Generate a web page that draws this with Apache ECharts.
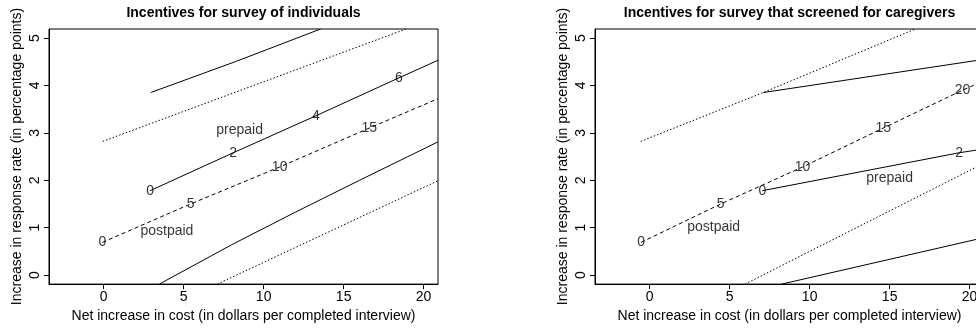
<!DOCTYPE html>
<html>
<head>
<meta charset="utf-8">
<script src="https://cdn.jsdelivr.net/npm/echarts@6/dist/echarts.min.js"></script>
<style>
html,body{margin:0;padding:0;background:#fff;overflow:hidden;width:976px;height:328px;}
#c{width:984px;height:328px;}
</style>
</head>
<body>
<div id="c"></div>
<script>
// ---- tick labels ----
const xTicks = [0, 5, 10, 15, 20];
const yTicks = [0, 1, 2, 3, 4, 5];

// ---- panel 1: survey of individuals ----
const indPrepaid = [[2.9, 1.78], [8.1, 2.58], [13.27, 3.36], [18.46, 4.16], [20.9, 4.53]];
const indPrepaidLabels = ['0', '2', '4', '6'];
const indPrepaidUpper = [[2.94, 3.85], [8.3, 4.51], [13.56, 5.19]];
const indPrepaidLower = [[3.48, -0.19], [8, 0.64], [12, 1.33], [16, 2.0], [20.9, 2.81]];
const indPostpaid = [[-0.08, 0.69], [5.43, 1.5], [11.0, 2.28], [16.6, 3.1], [20.9, 3.72]];
const indPostpaidLabels = ['0', '5', '10', '15'];
const indPostpaidUpper = [[-0.06, 2.82], [18.9, 5.19]];
const indPostpaidLower = [[7.1, -0.19], [20.9, 1.99]];
const indText = [['prepaid', 8.5, 3.05], ['postpaid', 3.95, 0.93]];

// ---- panel 2: survey that screened for caregivers ----
const cgPostpaidUpper = [[-0.56, 2.82], [7.1, 3.85], [16.6, 5.19]];
const cgPrepaidUpper = [[7.1, 3.85], [20.9, 4.55]];
const cgPostpaid = [[-0.54, 0.69], [4.44, 1.5], [9.56, 2.28], [14.6, 3.1], [19.56, 3.9], [20.9, 4.1]];
const cgPostpaidLabels = ['0', '5', '10', '15', '20'];
const cgPrepaid = [[7.04, 1.78], [19.35, 2.58], [20.9, 2.66]];
const cgPrepaidLabels = ['0', '2'];
const cgPostpaidLower = [[5.96, -0.19], [20.9, 2.36]];
const cgPrepaidLower = [[8.25, -0.19], [20.9, 0.79]];
const cgText = [['prepaid', 15.0, 2.04], ['postpaid', 4.0, 1.02]];

const titles = ['Incentives for survey of individuals', 'Incentives for survey that screened for caregivers'];
const xTitle = 'Net increase in cost (in dollars per completed interview)';
const yTitle = 'Increase in response rate (in percentage points)';

const FONT = '"Liberation Sans", Arial, Helvetica, sans-serif';
const gridLefts = [49, 595];

function lineSeries(data, type, idx) {
  return {
    type: 'line', xAxisIndex: idx, yAxisIndex: idx, data: data,
    showSymbol: false, symbol: 'none', silent: true, animation: false,
    lineStyle: { color: '#000', width: 1, type: type }, z: 2
  };
}
function labelSeries(points, labels, idx) {
  return {
    type: 'scatter', xAxisIndex: idx, yAxisIndex: idx, symbolSize: 0, silent: true, animation: false, z: 5,
    data: labels.map((l, i) => ({ value: points[i], name: l })),
    label: { show: true, position: 'inside', formatter: p => p.name, color: '#000', textBorderWidth: 0, fontSize: 14, fontFamily: FONT }
  };
}
function textSeries(items, idx) {
  return {
    type: 'scatter', xAxisIndex: idx, yAxisIndex: idx, symbolSize: 0, silent: true, animation: false, z: 5,
    data: items.map(t => ({ value: [t[1], t[2]], name: t[0] })),
    label: { show: true, position: 'inside', formatter: p => p.name, color: '#000', textBorderWidth: 0, fontSize: 14, fontFamily: FONT }
  };
}
const DOT = [1.5, 2];
const DASH = [4, 3];

const series = [
  lineSeries(indPrepaidUpper, 'solid', 0),
  lineSeries(indPrepaid, 'solid', 0),
  lineSeries(indPrepaidLower, 'solid', 0),
  lineSeries(indPostpaidUpper, DOT, 0),
  lineSeries(indPostpaid, DASH, 0),
  lineSeries(indPostpaidLower, DOT, 0),
  labelSeries(indPrepaid, indPrepaidLabels, 0),
  labelSeries(indPostpaid, indPostpaidLabels, 0),
  textSeries(indText, 0),
  lineSeries(cgPrepaidUpper, 'solid', 1),
  lineSeries(cgPrepaid, 'solid', 1),
  lineSeries(cgPrepaidLower, 'solid', 1),
  lineSeries(cgPostpaidUpper, DOT, 1),
  lineSeries(cgPostpaid, DASH, 1),
  lineSeries(cgPostpaidLower, DOT, 1),
  labelSeries(cgPrepaid, cgPrepaidLabels, 1),
  labelSeries(cgPostpaid, cgPostpaidLabels, 1),
  textSeries(cgText, 1)
];

function xAxis(i) {
  return {
    type: 'value', gridIndex: i, min: -3.42, max: 20.9,
    axisLine: { show: true, onZero: false, lineStyle: { color: '#000', width: 1 } },
    axisTick: { show: true, length: 5, customValues: xTicks, lineStyle: { color: '#000' } },
    axisLabel: { customValues: xTicks, color: '#000', fontSize: 14, fontFamily: FONT, margin: 6 },
    splitLine: { show: false },
    name: xTitle, nameLocation: 'middle', nameGap: 21,
    nameTextStyle: { color: '#000', fontSize: 14, fontFamily: FONT }
  };
}
function yAxis(i) {
  return {
    type: 'value', gridIndex: i, min: -0.19, max: 5.19,
    axisLine: { show: true, onZero: false, lineStyle: { color: '#000', width: 1 } },
    axisTick: { show: true, length: 5, customValues: yTicks, lineStyle: { color: '#000' } },
    axisLabel: { customValues: yTicks, rotate: 90, color: '#000', fontSize: 14, fontFamily: FONT, margin: 7 },
    splitLine: { show: false },
    name: yTitle, nameLocation: 'middle', nameGap: 25, nameRotate: 90,
    nameTextStyle: { color: '#000', fontSize: 14, fontFamily: FONT }
  };
}

const chart = echarts.init(document.getElementById('c'), null, { renderer: 'canvas', width: 984, height: 328 });
chart.setOption({
  backgroundColor: '#fff',
  animation: false,
  title: titles.map((t, i) => ({
    text: t, left: gridLefts[i] + 194.5, top: 6, textAlign: 'center', padding: 0,
    textStyle: { color: '#000', fontSize: 14, fontWeight: 'bold', fontFamily: FONT }
  })),
  grid: gridLefts.map(l => ({ left: l, top: 29, width: 389, height: 258, show: true, borderColor: '#000', borderWidth: 1, backgroundColor: 'transparent' })),
  xAxis: [xAxis(0), xAxis(1)],
  yAxis: [yAxis(0), yAxis(1)],
  series: series
});
</script>
</body>
</html>
